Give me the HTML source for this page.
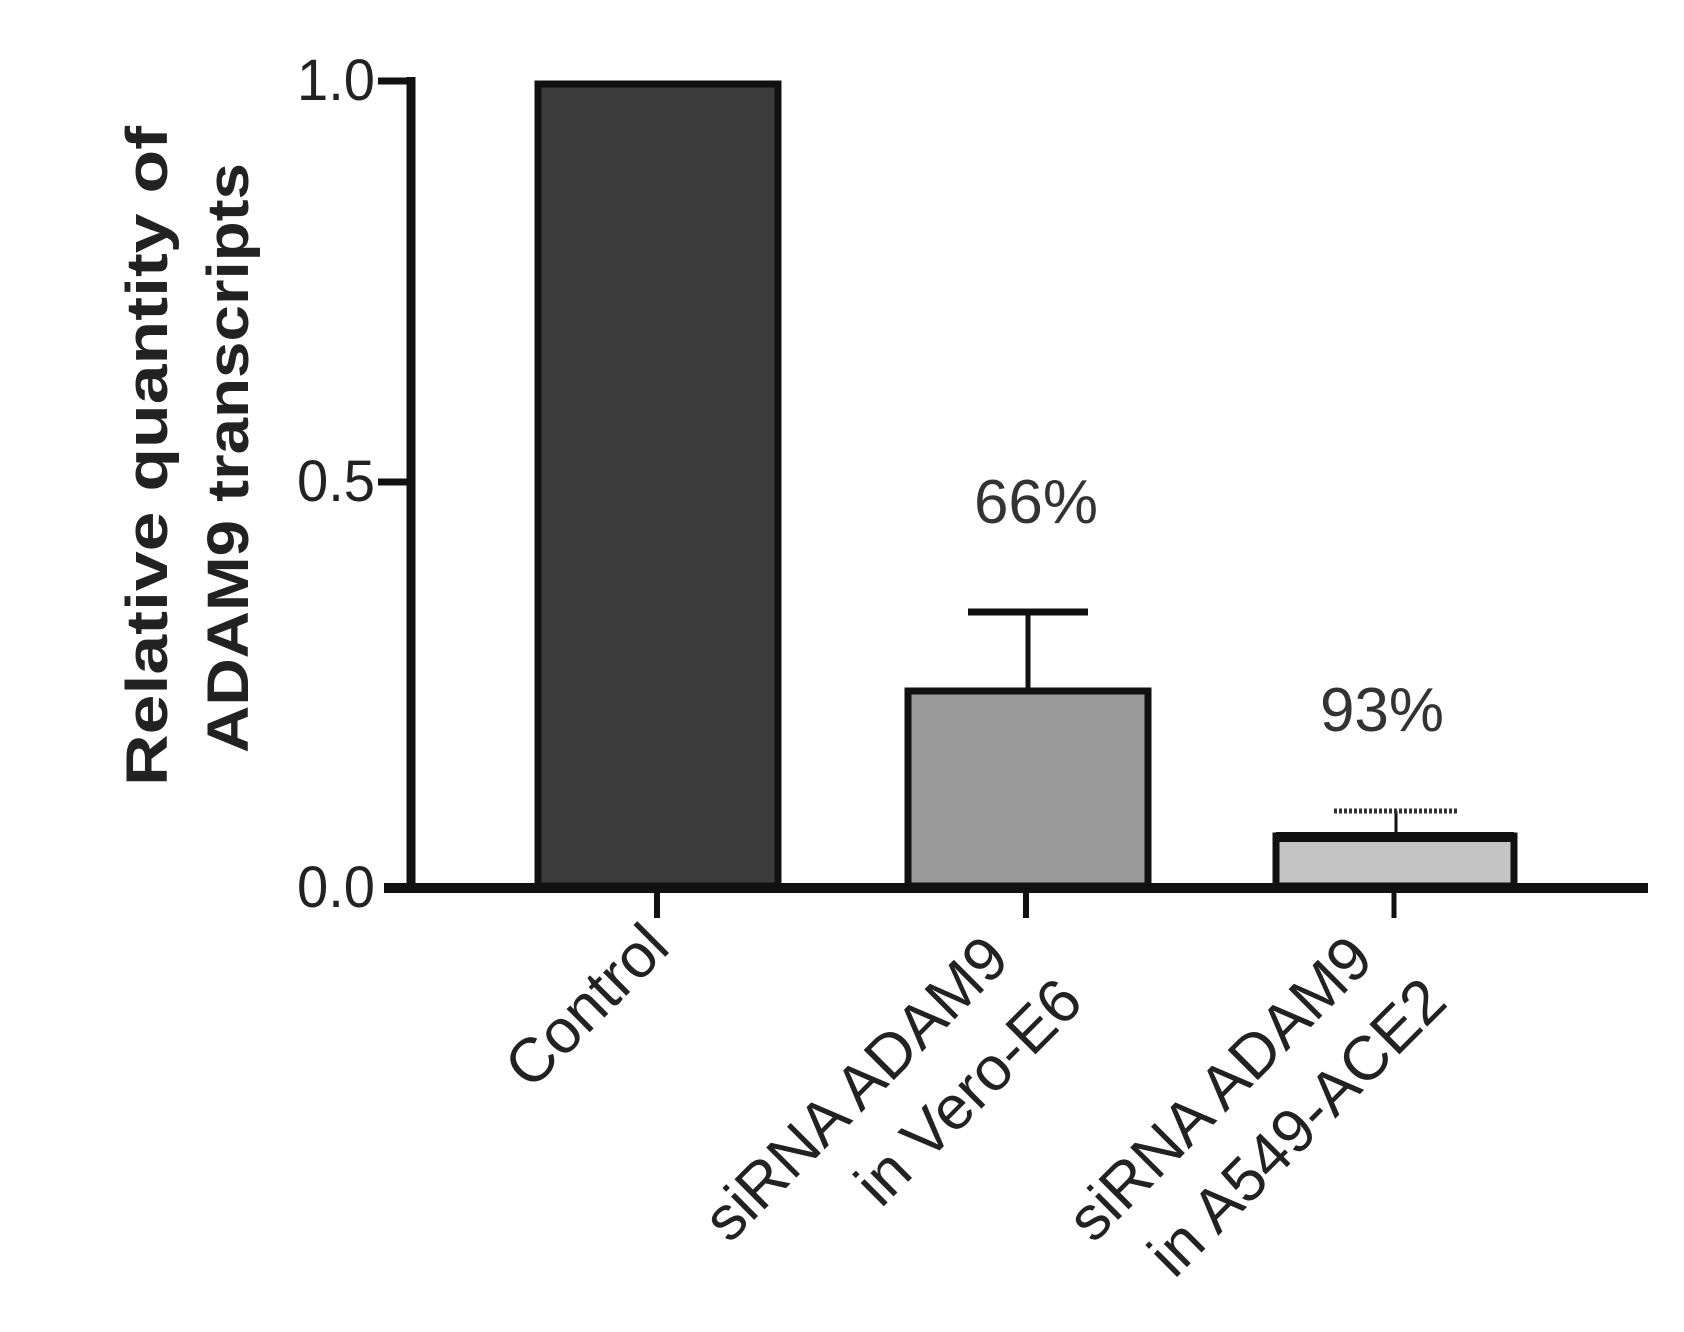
<!DOCTYPE html>
<html><head><meta charset="utf-8"><style>html,body{margin:0;padding:0;background:#fff}</style></head>
<body>
<svg width="1684" height="1327" viewBox="0 0 1684 1327" xmlns="http://www.w3.org/2000/svg" font-family="Liberation Sans, Arial, sans-serif">
<rect width="1684" height="1327" fill="#fff"/>
<!-- bars -->
<rect x="538" y="84" width="240" height="802" fill="#3c3c3c" stroke="#111" stroke-width="7"/>
<rect x="908" y="691" width="240" height="195" fill="#9a9a9a" stroke="#111" stroke-width="7"/>
<rect x="1276" y="836" width="238" height="50" fill="#c4c4c4" stroke="#111" stroke-width="7"/>
<rect x="1276" y="832" width="238" height="10" fill="#111"/>
<!-- error bars -->
<line x1="1028" y1="612" x2="1028" y2="691" stroke="#111" stroke-width="5"/>
<line x1="968" y1="612" x2="1088" y2="612" stroke="#111" stroke-width="7"/>
<line x1="1396" y1="811" x2="1396" y2="832" stroke="#111" stroke-width="3"/>
<line x1="1334" y1="811" x2="1458" y2="811" stroke="#333" stroke-width="5" stroke-dasharray="3 2"/>
<!-- axes -->
<line x1="411" y1="77" x2="411" y2="890" stroke="#111" stroke-width="9"/>
<line x1="384" y1="888" x2="1648" y2="888" stroke="#111" stroke-width="10"/>
<line x1="378" y1="81" x2="411" y2="81" stroke="#111" stroke-width="7"/>
<line x1="378" y1="482" x2="411" y2="482" stroke="#111" stroke-width="7"/>
<line x1="657" y1="888" x2="657" y2="918" stroke="#111" stroke-width="6"/>
<line x1="1026" y1="888" x2="1026" y2="918" stroke="#111" stroke-width="6"/>
<line x1="1394" y1="888" x2="1394" y2="918" stroke="#111" stroke-width="5"/>
<!-- tick labels -->
<g font-size="58" fill="#222">
<text x="297" y="100" textLength="78" lengthAdjust="spacingAndGlyphs">1.0</text>
<text x="297" y="501" textLength="78" lengthAdjust="spacingAndGlyphs">0.5</text>
<text x="297" y="907" textLength="78" lengthAdjust="spacingAndGlyphs">0.0</text>
</g>
<!-- y title -->
<g font-size="58" font-weight="bold" fill="#222" text-anchor="middle">
<text transform="translate(167,456) rotate(-90)" textLength="660" lengthAdjust="spacingAndGlyphs">Relative quantity of</text>
<text transform="translate(248,458) rotate(-90)" textLength="590" lengthAdjust="spacingAndGlyphs">ADAM9 transcripts</text>
</g>
<!-- annotations -->
<g font-size="62" fill="#333" text-anchor="middle">
<text x="1036" y="523">66%</text>
<text x="1382" y="731">93%</text>
</g>
<!-- x labels -->
<g font-size="62" fill="#222" text-anchor="end">
<text transform="translate(672,950) rotate(-45)">Control</text>
<text transform="translate(1012,962) rotate(-45)"><tspan x="0" dy="0">siRNA ADAM9</tspan><tspan x="22" dy="82">in Vero-E6</tspan></text>
<text transform="translate(1376,962) rotate(-45)"><tspan x="0" dy="0">siRNA ADAM9</tspan><tspan x="22" dy="82">in A549-ACE2</tspan></text>
</g>
</svg>
</body></html>
